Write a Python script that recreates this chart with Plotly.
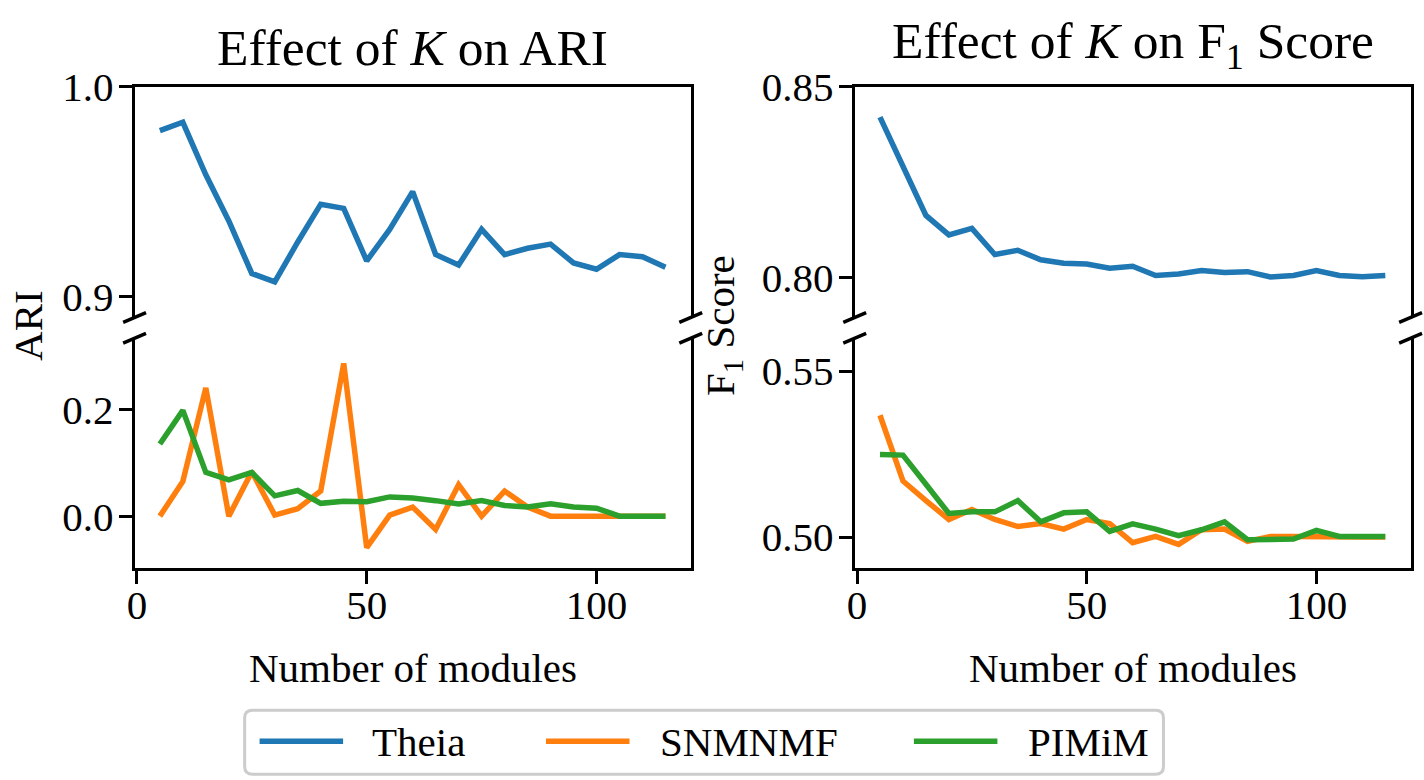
import plotly.graph_objects as go

# ---------------- data ----------------
modules = [5, 10, 15, 20, 25, 30, 35, 40, 45, 50, 55, 60, 65, 70, 75, 80, 85, 90, 95, 100, 105, 110, 115]

ari_theia = [0.979, 0.983, 0.958, 0.936, 0.911, 0.907, 0.926, 0.944, 0.942, 0.917, 0.932, 0.950,
             0.920, 0.915, 0.932, 0.920, 0.923, 0.925, 0.916, 0.913, 0.920, 0.919, 0.914]
ari_snmnmf = [0.0, 0.065, 0.240, 0.0, 0.083, 0.002, 0.014, 0.047, 0.286, -0.059, 0.002, 0.017,
              -0.025, 0.059, 0.0, 0.047, 0.017, 0.0, 0.0, 0.0, 0.0, 0.0, 0.0]
ari_pimim = [0.135, 0.198, 0.082, 0.068, 0.082, 0.038, 0.048, 0.024, 0.028, 0.027, 0.036, 0.034,
             0.029, 0.023, 0.029, 0.020, 0.017, 0.023, 0.017, 0.015, 0.0, 0.0, 0.0]

f1_theia = [0.842, 0.8295, 0.8163, 0.8112, 0.8129, 0.8061, 0.8072, 0.8047, 0.8038, 0.8036, 0.8025,
            0.8030, 0.8006, 0.8010, 0.8019, 0.8014, 0.8016, 0.8002, 0.8006, 0.8019, 0.8006, 0.8003, 0.8006]
f1_snmnmf = [0.5367, 0.5169, 0.5110, 0.5053, 0.5083, 0.5053, 0.5032, 0.5041, 0.5024, 0.5053, 0.5041,
             0.4983, 0.5002, 0.4978, 0.5022, 0.5024, 0.4987, 0.5002, 0.5002, 0.5000, 0.5000, 0.5000, 0.5000]
f1_pimim = [0.5249, 0.5247, 0.5159, 0.5071, 0.5076, 0.5076, 0.5110, 0.5046, 0.5073, 0.5076, 0.5017,
            0.5040, 0.5024, 0.5004, 0.5022, 0.5046, 0.4992, 0.4994, 0.4994, 0.5020, 0.5002, 0.5002, 0.5002]

series_names = ["Theia", "SNMNMF", "PIMiM"]
colors = ["#1f77b4", "#ff7f0e", "#2ca02c"]

x_ticks = [0, 50, 100]
ari_top_ticks = [0.9, 1.0]
ari_bot_ticks = [0.0, 0.2]
f1_top_ticks = [0.80, 0.85]
f1_bot_ticks = [0.50, 0.55]

titles = ["Effect of <i>K</i> on ARI", "Effect of <i>K</i> on F<sub>1</sub> Score"]
ylabels = ["ARI", "F<sub>1</sub> Score"]
xlabel = "Number of modules"

# ---------------- layout geometry (pixels) ----------------
W, H = 1424, 780
FONT = "Liberation Serif"
FS = 41
TFS = 51.5
def px(x):
    return x / W
def py(y):
    return 1 - y / H

LEFT = (127.3, 686.6)
RIGHT = (851.5, 1410.5)
TOP = (65.7, 304.3)
BOT = (325.7, 563.0)

fig = go.Figure()

panels = [
    ("x", "y", "x2", "y2", [ari_theia, ari_snmnmf, ari_pimim]),
    ("x3", "y3", "x4", "y4", [f1_theia, f1_snmnmf, f1_pimim]),
]
for xb, yb, xt, yt, ser in panels:
    for xa, ya in ((xt, yt), (xb, yb)):
        for name, vals, c in zip(series_names, ser, colors):
            fig.add_trace(go.Scatter(x=modules, y=vals, mode="lines", name=name,
                                     line=dict(color=c, width=5.5), xaxis=xa, yaxis=ya,
                                     showlegend=False, hoverinfo="skip"))

xr = [-0.5, 120.5]
common_y = dict(showline=True, linecolor="black", linewidth=3, mirror=True, ticks="outside",
                ticklen=13, tickwidth=3, tickcolor="black", showgrid=False, zeroline=False,
                ticklabelstandoff=-3,
                tickfont=dict(family=FONT, size=FS, color="black"))
xb_common = dict(range=xr, showline=True, linecolor="black", linewidth=3, ticks="outside",
                 ticklen=13, tickwidth=3, tickcolor="black", showgrid=False, zeroline=False,
                 tickvals=x_ticks, ticklabelstandoff=-14,
                 tickfont=dict(family=FONT, size=FS, color="black"))
xt_common = dict(range=xr, side="top", showline=True, linecolor="black", linewidth=3,
                 ticks="", showticklabels=False, showgrid=False, zeroline=False)

fig.update_layout(
    width=W, height=H, autosize=False,
    margin=dict(l=0, r=0, t=0, b=0, pad=0),
    paper_bgcolor="white", plot_bgcolor="white",
    font=dict(family=FONT, size=FS, color="black"),
    showlegend=False,
    xaxis=dict(domain=[px(LEFT[0]), px(LEFT[1])], anchor="y", **xb_common),
    yaxis=dict(domain=[py(BOT[1]), py(BOT[0])], anchor="x", range=[-0.097, 0.333],
               tickvals=ari_bot_ticks, tickformat=".1f", **common_y),
    xaxis2=dict(domain=[px(LEFT[0]), px(LEFT[1])], anchor="y2", matches="x", **xt_common),
    yaxis2=dict(domain=[py(TOP[1]), py(TOP[0])], anchor="x2", range=[0.89, 1.0],
                tickvals=ari_top_ticks, tickformat=".1f", **common_y),
    xaxis3=dict(domain=[px(RIGHT[0]), px(RIGHT[1])], anchor="y3", **xb_common),
    yaxis3=dict(domain=[py(BOT[1]), py(BOT[0])], anchor="x3", range=[0.4907, 0.5599],
                tickvals=f1_bot_ticks, tickformat=".2f", **common_y),
    xaxis4=dict(domain=[px(RIGHT[0]), px(RIGHT[1])], anchor="y4", matches="x3", **xt_common),
    yaxis4=dict(domain=[py(TOP[1]), py(TOP[0])], anchor="x4", range=[0.7896, 0.85],
                tickvals=f1_top_ticks, tickformat=".2f", **common_y),
)

shapes = []
# break marks
for (xa, xb) in (LEFT, RIGHT):
    for xc in (xa, xb):
        for yc in (TOP[1], BOT[0]):
            shapes.append(dict(type="line", xref="paper", yref="paper",
                               x0=px(xc - 11.5), y0=py(yc + 5), x1=px(xc + 11.5), y1=py(yc - 5),
                               line=dict(color="black", width=3.5)))

annotations = []
for (xa, xb), t, yl, ty, ylx in ((LEFT, titles[0], ylabels[0], 25, 20), (RIGHT, titles[1], ylabels[1], 22, 719)):
    cx = (xa + xb) / 2
    annotations.append(dict(text=t, x=px(cx), y=py(ty), xref="paper", yref="paper",
                            showarrow=False, xanchor="center", yanchor="middle",
                            font=dict(family=FONT, size=TFS, color="black")))
    annotations.append(dict(text=xlabel, x=px(cx), y=py(666), xref="paper", yref="paper",
                            showarrow=False, xanchor="center", yanchor="middle",
                            font=dict(family=FONT, size=FS, color="black")))
    annotations.append(dict(text=yl, x=px(ylx), y=py(312), xref="paper", yref="paper",
                            showarrow=False, xanchor="center", yanchor="middle", textangle=-90,
                            font=dict(family=FONT, size=FS, color="black")))

# legend (custom, matplotlib-like)
LB = (238, 710, 1162, 776)
r = 8
x0, y0, x1, y1 = px(LB[0]), py(LB[1]), px(LB[2]), py(LB[3])
rx, ry = r / W, r / H
path = (f"M {x0+rx},{y0} L {x1-rx},{y0} Q {x1},{y0} {x1},{y0-ry} "
        f"L {x1},{y1+ry} Q {x1},{y1} {x1-rx},{y1} L {x0+rx},{y1} Q {x0},{y1} {x0},{y1+ry} "
        f"L {x0},{y0-ry} Q {x0},{y0} {x0+rx},{y0} Z")
shapes.append(dict(type="path", xref="paper", yref="paper", path=path,
                   line=dict(color="#cccccc", width=3), fillcolor="white"))
leg_line_x = [253, 541, 911]
leg_text_x = [364, 654, 1024]
for name, c, lx, tx in zip(series_names, colors, leg_line_x, leg_text_x):
    shapes.append(dict(type="line", xref="paper", yref="paper", x0=px(lx), x1=px(lx + 84),
                       y0=py(742), y1=py(742), line=dict(color=c, width=5.5)))
    annotations.append(dict(text=name, x=px(tx), y=py(743), xref="paper", yref="paper",
                            showarrow=False, xanchor="left", yanchor="middle",
                            font=dict(family=FONT, size=FS, color="black")))

fig.update_layout(shapes=shapes, annotations=annotations)

css_js = ("var s=document.createElement('style');"
          "s.innerHTML='html,body{margin:0 !important;padding:0 !important;overflow:hidden !important;}"
          ".plotly-graph-div{margin:0 !important;}';"
          "document.head.appendChild(s);")
fig.write_html("out.html", config={"displayModeBar": False}, post_script=css_js)
